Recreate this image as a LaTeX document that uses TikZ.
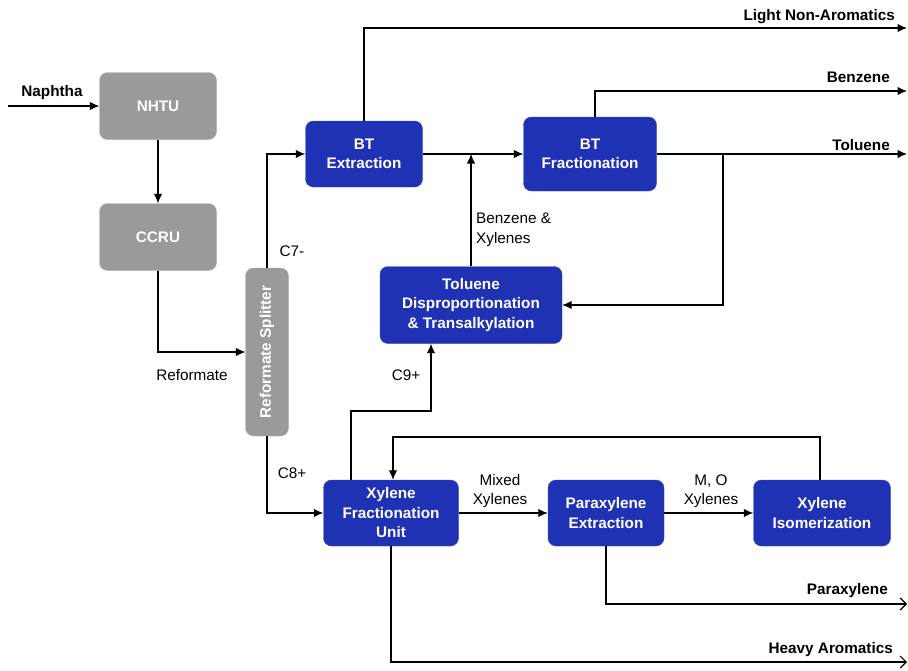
\documentclass[tikz,border=0pt]{standalone}
\usepackage{fontspec}
\setmainfont{Liberation Sans}
\usetikzlibrary{positioning}
\usetikzlibrary{arrows.meta}

\definecolor{unitblue}{HTML}{2032B4}
\definecolor{unitedge}{HTML}{3446C8}
\definecolor{feedgray}{HTML}{9A9A9A}
\definecolor{feededge}{HTML}{B4B4B4}

\tikzset{
    unit/.style={draw=unitedge, fill=unitblue, rounded corners=8pt, text=white,
        font=\fontsize{15.3}{19.5}\selectfont\bfseries, align=center, inner sep=0pt},
    feed/.style={unit, draw=feededge, fill=feedgray},
    flow/.style={line width=1.2pt, -{Latex[length=9.5pt,width=8.5pt]}},
    outflow/.style={line width=1.2pt, -{Straight Barb[length=6pt,width=12pt,line width=1.2pt]}},
    lab/.style={font=\fontsize{15.3}{19.5}\selectfont, inner sep=0pt, align=center},
    prodlab/.style={lab, font=\fontsize{15.3}{19.5}\selectfont\bfseries}
}

\begin{document}
\begin{tikzpicture}[x=1pt, y=-1pt]
    \useasboundingbox (0,0) rectangle (908,670);

    % units
    \node[feed, minimum width=117pt, minimum height=67pt] (nhtu) at (158,106) {NHTU};
    \node[feed, minimum width=117pt, minimum height=67pt] (ccru) at (158,237) {CCRU};
    \node[feed, rotate=90, minimum width=168pt, minimum height=43pt] (splitter) at (267,352) {Reformate Splitter};
    \node[unit, minimum width=117pt, minimum height=66pt] (btx) at (364,154) {BT\\Extraction};
    \node[unit, minimum width=133pt, minimum height=74pt] (btf) at (590,154) {BT\\Fractionation};
    \node[unit, minimum width=182pt, minimum height=77pt] (tdp) at (471,305) {Toluene\\Disproportionation\\\& Transalkylation};
    \node[unit, minimum width=135pt, minimum height=66pt] (xfu) at (391,513) {Xylene\\Fractionation\\Unit};
    \node[unit, minimum width=116pt, minimum height=66pt] (pxe) at (606,513) {Paraxylene\\Extraction};
    \node[unit, minimum width=137pt, minimum height=66pt] (xiso) at (822,513) {Xylene\\Isomerization};

    % free ends and bends
    \coordinate (naphtha) at (8,106);
    \coordinate (lnaout) at (907,28);
    \coordinate (bzout) at (907,91);
    \coordinate (tolout) at (907,154);
    \coordinate (pxout) at (907,604);
    \coordinate (heavyout) at (907,662);
    \coordinate (bxjoin) at (471,154);
    \coordinate (tolsplit) at (723,154);
    \coordinate (c9bend) at (431,411);
    \coordinate (recyc) at (393,437);

    % streams
    \draw[flow] (naphtha) -- (nhtu);
    \draw[flow] (nhtu) -- (ccru);
    \draw[flow] (ccru) |- (splitter);
    \draw[flow] (splitter) |- (btx);
    \draw[flow] (splitter) |- (xfu);
    \draw[flow] (btx) -- (btf);
    \draw[flow] (btx) |- (lnaout);
    \draw[flow] ([xshift=5pt]btf.north) |- (bzout);
    \draw[flow] (btf) -- (tolout);
    \draw[flow] (tdp) -- (bxjoin);
    \draw[flow] (tolsplit) |- (tdp);
    \draw[flow] ([xshift=-40pt]xfu.north) |- (c9bend) -- ([xshift=-40pt]tdp.south);
    \draw[flow] (xfu) -- (pxe);
    \draw[flow] (pxe) -- (xiso);
    \draw[flow] ([xshift=-2pt]xiso.north) |- (recyc) -- ([xshift=2pt]xfu.north);
    \draw[outflow] (pxe) |- (pxout);
    \draw[outflow] (xfu) |- (heavyout);

    % labels
    \node[prodlab] (naphthalab) at (52,93) {Naphtha};
    \node[prodlab, anchor=east] (lnalab) at (895,17) {Light Non-Aromatics};
    \node[prodlab, anchor=east] (bzlab) at (890,77) {Benzene};
    \node[prodlab, anchor=east] (tollab) at (890,145) {Toluene};
    \node[prodlab, anchor=east] (pxlab) at (888,591) {Paraxylene};
    \node[prodlab, anchor=east] (heavylab) at (893,650) {Heavy Aromatics};
    \node[lab] (reflab) at (192,375) {Reformate};
    \node[lab] (c7lab) at (292,251) {C7-};
    \node[lab] (c8lab) at (292,473) {C8+};
    \node[lab] (c9lab) at (406,375) {C9+};
    \node[lab, anchor=west, align=left] (bxlab) at (476,230) {Benzene \&\\Xylenes};
    \node[lab] (mxlab) at (500,491) {Mixed\\Xylenes};
    \node[lab] (molab) at (711,491) {M, O\\Xylenes};
\end{tikzpicture}
\end{document}
